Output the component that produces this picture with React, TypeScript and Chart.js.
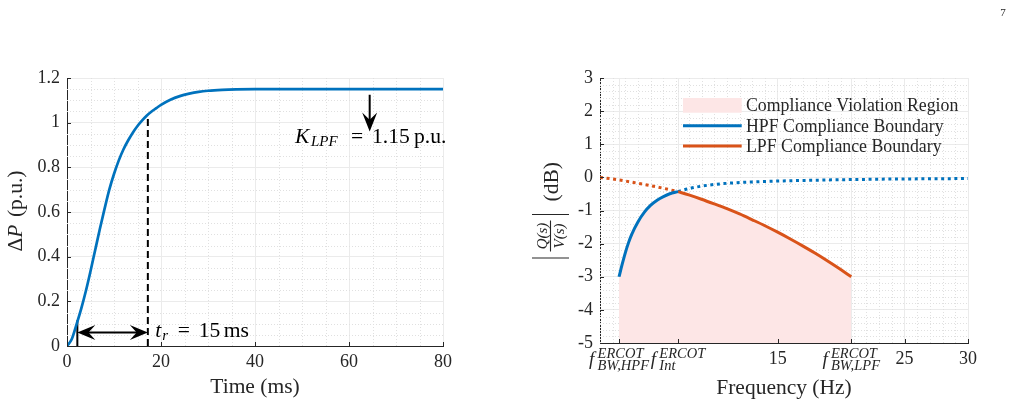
import React, { useEffect, useRef } from 'react';
import { Chart, registerables } from 'chart.js';

Chart.register(...registerables);

const SERIF = '"Liberation Serif", "Times New Roman", serif';
const AXIS_COLOR = '#262626';
const GRID_COLOR = '#ebebeb';
const MINOR_COLOR = '#e0e0e0';
const BLUE = '#0072BD';
const ORANGE = '#D95319';
const PINK = '#fde6e6';

// ---------------- Left panel: power step response ----------------
const timeMs = [0, 1, 2, 3, 4, 5, 6, 7, 8, 9, 10, 11, 12, 13, 14, 15, 16, 17, 18, 19, 20, 22, 24, 26, 28, 30, 33, 36, 40, 50, 60, 70, 80];
const deltaP = [0, 0.03, 0.095, 0.165, 0.245, 0.335, 0.43, 0.525, 0.615, 0.7, 0.77, 0.83, 0.88, 0.92, 0.955, 0.985, 1.01, 1.032, 1.05, 1.065, 1.08, 1.103, 1.119, 1.13, 1.138, 1.143, 1.147, 1.149, 1.15, 1.15, 1.15, 1.15, 1.15];
const timeTicks = [0, 20, 40, 60, 80];
const timeTickLabels = ['0', '20', '40', '60', '80'];
const dpTicks = [0, 0.2, 0.4, 0.6, 0.8, 1, 1.2];
const dpTickLabels = ['0', '0.2', '0.4', '0.6', '0.8', '1', '1.2'];
const riseStartMs = 2.2;
const riseEndMs = 17.2;
const riseLowPu = 0.115;
const riseHighPu = 1.035;
const riseArrowPu = 0.06;
const kArrowMs = 64.4;
const kArrowTopPu = 1.125;
const kArrowTipPu = 0.96;
const kTextMs = 48.5;
const kTextPu = 0.908;
const trTextMs = 18.75;
const trTextPu = 0.039;

// ---------------- Right panel: compliance boundaries ----------------
const hpfFreq = [2.5, 2.75, 3, 3.25, 3.5, 4, 4.5, 5, 5.5, 6, 6.5, 7.15, 8, 9, 10, 11, 12, 14, 16, 18, 20, 22, 24, 26, 28, 30];
const hpfDb = [-3, -2.62, -2.27, -1.97, -1.72, -1.34, -1.05, -0.84, -0.69, -0.58, -0.495, -0.43, -0.34, -0.265, -0.215, -0.18, -0.155, -0.125, -0.1, -0.085, -0.07, -0.06, -0.05, -0.045, -0.04, -0.035];
const lpfFreq = [1, 2, 3, 4, 5, 6, 7.15, 8, 9, 10, 11, 12, 13, 14, 15, 16, 17, 18, 19, 20, 20.8];
const lpfDb = [0, -0.05, -0.11, -0.18, -0.25, -0.33, -0.43, -0.53, -0.66, -0.8, -0.945, -1.105, -1.28, -1.46, -1.655, -1.86, -2.075, -2.3, -2.54, -2.79, -3.0];
const fHpf = 2.5;
const fInt = 7.15;
const fLpf = 20.8;
const freqTicks = [fHpf, fInt, 15, fLpf, 25, 30];
const freqTickLabels = ['', '', '15', '', '25', '30'];
const texTickLabels = [
  { at: fHpf, sup: 'ERCOT', sub: 'BW,HPF' },
  { at: fInt, sup: 'ERCOT', sub: 'Int' },
  { at: fLpf, sup: 'ERCOT', sub: 'BW,LPF' },
];
const dbTicks = [-5, -4, -3, -2, -1, 0, 1, 2, 3];
const dbTickLabels = ['-5', '-4', '-3', '-2', '-1', '0', '1', '2', '3'];
const legendLabels = ['Compliance Violation Region', 'HPF Compliance Boundary', 'LPF Compliance Boundary'];

// ---------------- helpers ----------------
const font = (size: number, italic = false) => `${italic ? 'italic ' : ''}${size}px ${SERIF}`;

function minorValues(from: number, to: number, step: number, majors: number[]) {
  const out: number[] = [];
  const n = Math.round((to - from) / step);
  for (let i = 0; i <= n; i++) {
    const v = Math.round((from + i * step) * 1000) / 1000;
    if (!majors.some((m) => Math.abs(m - v) < 1e-6)) out.push(v);
  }
  return out;
}

function drawMinorGrid(chart: any, xs: number[], ys: number[]) {
  const { ctx, chartArea: a, scales } = chart;
  ctx.save();
  ctx.strokeStyle = MINOR_COLOR;
  ctx.lineWidth = 1;
  ctx.setLineDash([1, 2]);
  for (const v of xs) {
    const p = Math.round(scales.x.getPixelForValue(v)) + 0.5;
    ctx.beginPath();
    ctx.moveTo(p, a.top);
    ctx.lineTo(p, a.bottom);
    ctx.stroke();
  }
  for (const v of ys) {
    const p = Math.round(scales.y.getPixelForValue(v)) + 0.5;
    ctx.beginPath();
    ctx.moveTo(a.left, p);
    ctx.lineTo(a.right, p);
    ctx.stroke();
  }
  ctx.restore();
}

function drawInwardTicks(chart: any, xs: number[], ys: number[]) {
  const { ctx, chartArea: a, scales } = chart;
  ctx.save();
  ctx.strokeStyle = AXIS_COLOR;
  ctx.lineWidth = 1;
  for (const v of xs) {
    const p = Math.round(scales.x.getPixelForValue(v)) + 0.5;
    ctx.beginPath();
    ctx.moveTo(p, a.bottom);
    ctx.lineTo(p, a.bottom - 4);
    ctx.stroke();
  }
  for (const v of ys) {
    const p = Math.round(scales.y.getPixelForValue(v)) + 0.5;
    ctx.beginPath();
    ctx.moveTo(a.left, p);
    ctx.lineTo(a.left + 4, p);
    ctx.stroke();
  }
  ctx.restore();
}

function arrowHead(ctx: CanvasRenderingContext2D, tx: number, ty: number, dx: number, dy: number, len: number, hw: number) {
  const nx = -dy;
  const ny = dx;
  const bx = tx - dx * len;
  const by = ty - dy * len;
  const mx = tx - dx * len * 0.62;
  const my = ty - dy * len * 0.62;
  ctx.beginPath();
  ctx.moveTo(tx, ty);
  ctx.lineTo(bx + nx * hw, by + ny * hw);
  ctx.lineTo(mx, my);
  ctx.lineTo(bx - nx * hw, by - ny * hw);
  ctx.closePath();
  ctx.fill();
}

type Run = { t: string; size: number; it?: boolean; dx: number; dy?: number };
function drawRuns(ctx: CanvasRenderingContext2D, x0: number, y0: number, runs: Run[]) {
  ctx.textAlign = 'left';
  ctx.textBaseline = 'alphabetic';
  for (const r of runs) {
    ctx.font = font(r.size, r.it);
    ctx.fillText(r.t, x0 + r.dx, y0 + (r.dy || 0));
  }
}

function fixedTicks(values: number[]) {
  return (scale: any) => {
    scale.ticks = values.map((v) => ({ value: v }));
  };
}

const tickFont = { family: SERIF, size: 18 };

// ---------------- plugins ----------------
const leftDecor = {
  id: 'leftDecor',
  beforeDatasetsDraw(chart: any) {
    drawMinorGrid(chart, minorValues(0, 80, 5, timeTicks), minorValues(0, 1.2, 0.05, dpTicks));
  },
  afterDatasetsDraw(chart: any) {
    const { ctx, scales } = chart;
    const x = scales.x;
    const y = scales.y;
    drawInwardTicks(chart, timeTicks, dpTicks);
    ctx.save();
    ctx.fillStyle = '#000';
    ctx.strokeStyle = '#000';
    ctx.lineWidth = 2;
    // rise-time double arrow
    const ay = y.getPixelForValue(riseArrowPu);
    const x1 = x.getPixelForValue(riseStartMs);
    const x2 = x.getPixelForValue(riseEndMs);
    ctx.beginPath();
    ctx.moveTo(x1 + 10, ay);
    ctx.lineTo(x2 - 10, ay);
    ctx.stroke();
    arrowHead(ctx, x1, ay, -1, 0, 18, 7.5);
    arrowHead(ctx, x2, ay, 1, 0, 18, 7.5);
    // K_LPF down arrow
    const kx = x.getPixelForValue(kArrowMs);
    const kt = y.getPixelForValue(kArrowTopPu);
    const kb = y.getPixelForValue(kArrowTipPu);
    ctx.beginPath();
    ctx.moveTo(kx, kt);
    ctx.lineTo(kx, kb - 10);
    ctx.stroke();
    arrowHead(ctx, kx, kb, 0, 1, 19, 7.5);
    // annotations
    drawRuns(ctx, x.getPixelForValue(kTextMs), y.getPixelForValue(kTextPu), [
      { t: 'K', size: 21.6, it: true, dx: 0 },
      { t: 'LPF', size: 15, it: true, dx: 16, dy: 3 },
      { t: '=', size: 21.6, dx: 56 },
      { t: '1.15', size: 21.6, dx: 77 },
      { t: 'p.u.', size: 21.6, dx: 119 },
    ]);
    drawRuns(ctx, x.getPixelForValue(trTextMs), y.getPixelForValue(trTextPu), [
      { t: 't', size: 21.6, it: true, dx: 0 },
      { t: 'r', size: 15, it: true, dx: 7, dy: 3 },
      { t: '=', size: 21.6, dx: 22.5 },
      { t: '15', size: 21.6, dx: 43.5 },
      { t: 'ms', size: 21.6, dx: 68.5 },
    ]);
    ctx.restore();
  },
  afterDraw(chart: any) {
    const { ctx, chartArea: a } = chart;
    ctx.save();
    ctx.fillStyle = AXIS_COLOR;
    ctx.font = font(21.5);
    ctx.textAlign = 'center';
    ctx.textBaseline = 'alphabetic';
    ctx.fillText('Time (ms)', (a.left + a.right) / 2, 392.5);
    // y title: ΔP (p.u.)
    ctx.translate(22, (a.top + a.bottom) / 2);
    ctx.rotate(-Math.PI / 2);
    const parts = [
      { t: 'Δ', it: false },
      { t: 'P', it: true },
      { t: ' (p.u.)', it: false },
    ];
    let w = 0;
    for (const p of parts) {
      ctx.font = font(21.5, p.it);
      w += ctx.measureText(p.t).width;
    }
    let cx = -w / 2;
    ctx.textAlign = 'left';
    for (const p of parts) {
      ctx.font = font(21.5, p.it);
      ctx.fillText(p.t, cx, 0);
      cx += ctx.measureText(p.t).width + (p.t === 'P' ? 2 : 0);
    }
    ctx.restore();
  },
};

const rightDecor = {
  id: 'rightDecor',
  beforeDatasetsDraw(chart: any) {
    drawMinorGrid(chart, minorValues(1, 30, 1, freqTicks), minorValues(-5, 3, 0.2, dbTicks));
  },
  afterDatasetsDraw(chart: any) {
    drawInwardTicks(chart, freqTicks, dbTicks);
  },
  afterDraw(chart: any) {
    const { ctx, chartArea: a, scales } = chart;
    const x = scales.x;
    ctx.save();
    ctx.fillStyle = AXIS_COLOR;
    // LaTeX-like tick labels
    for (const lab of texTickLabels) {
      const px = x.getPixelForValue(lab.at);
      ctx.font = font(14.5, true);
      const sw = Math.max(ctx.measureText(lab.sup).width, ctx.measureText(lab.sub).width);
      const total = 8.5 + sw;
      const left = px - total / 2;
      ctx.textAlign = 'left';
      ctx.textBaseline = 'alphabetic';
      ctx.font = font(19, true);
      ctx.fillText('f', left, a.bottom + 21.5);
      ctx.font = font(14.5, true);
      ctx.fillText(lab.sup, left + 8.5, a.bottom + 15);
      ctx.fillText(lab.sub, left + 8.5, a.bottom + 26.5);
    }
    // x title
    ctx.font = font(21.5);
    ctx.textAlign = 'center';
    ctx.fillText('Frequency (Hz)', (a.left + a.right) / 2, 394);
    // legend
    const lx0 = 163;
    const lx1 = 221.7;
    ctx.fillStyle = PINK;
    ctx.fillRect(lx0, 98, lx1 - lx0, 14.7);
    ctx.lineWidth = 3;
    ctx.strokeStyle = BLUE;
    ctx.beginPath();
    ctx.moveTo(lx0, 125.7);
    ctx.lineTo(lx1, 125.7);
    ctx.stroke();
    ctx.strokeStyle = ORANGE;
    ctx.beginPath();
    ctx.moveTo(lx0, 146);
    ctx.lineTo(lx1, 146);
    ctx.stroke();
    ctx.fillStyle = AXIS_COLOR;
    ctx.font = font(17.8);
    ctx.textAlign = 'left';
    ctx.fillText(legendLabels[0], 226, 110.5);
    ctx.fillText(legendLabels[1], 226, 131.5);
    ctx.fillText(legendLabels[2], 226, 151.8);
    // page number
    ctx.font = font(11);
    ctx.textAlign = 'center';
    ctx.fillText('7', 483, 16);
    ctx.restore();

    // y title: |Q(s)/V(s)| (dB)
    ctx.save();
    ctx.fillStyle = AXIS_COLOR;
    ctx.strokeStyle = AXIS_COLOR;
    ctx.translate(30, (a.top + a.bottom) / 2);
    ctx.rotate(-Math.PI / 2);
    ctx.lineWidth = 1.1;
    ctx.beginPath();
    ctx.moveTo(-47.5, -18);
    ctx.lineTo(-47.5, 19);
    ctx.moveTo(-4, -18);
    ctx.lineTo(-4, 19);
    ctx.moveTo(-41, 0.5);
    ctx.lineTo(-10, 0.5);
    ctx.stroke();
    ctx.font = font(15, true);
    ctx.textAlign = 'center';
    ctx.textBaseline = 'alphabetic';
    ctx.fillText('Q(s)', -25.5, -3);
    ctx.fillText('V(s)', -25.5, 14);
    ctx.font = font(21.5);
    ctx.textAlign = 'left';
    ctx.fillText('(dB)', 9, 8);
    ctx.restore();
  },
};

function buildLeft(canvas: HTMLCanvasElement) {
  const curve = timeMs.map((t, i) => ({ x: t, y: deltaP[i] }));
  return new Chart(canvas, {
    type: 'line',
    data: {
      datasets: [
        { data: curve, borderColor: BLUE, borderWidth: 2.7, pointRadius: 0, cubicInterpolationMode: 'monotone', fill: false },
        { data: [{ x: riseEndMs, y: 0 }, { x: riseEndMs, y: riseHighPu }], borderColor: '#000', borderWidth: 2, borderDash: [7, 4], pointRadius: 0, fill: false },
        { data: [{ x: riseStartMs, y: 0 }, { x: riseStartMs, y: riseLowPu }], borderColor: '#000', borderWidth: 2, pointRadius: 0, fill: false },
      ],
    } as any,
    options: {
      responsive: false,
      animation: false,
      devicePixelRatio: 1,
      events: [],
      layout: { padding: { left: 0, top: 78, right: 27, bottom: 0 } },
      plugins: { legend: { display: false }, tooltip: { enabled: false } },
      scales: {
        x: {
          type: 'linear',
          min: 0,
          max: 80,
          afterBuildTicks: fixedTicks(timeTicks),
          afterFit: (s: any) => { s.height = 62; },
          ticks: { font: tickFont, color: AXIS_COLOR, padding: 5, autoSkip: false, maxRotation: 0, callback: (_v: any, i: number) => timeTickLabels[i] },
          grid: { color: GRID_COLOR, drawTicks: false, lineWidth: 1 },
          border: { color: AXIS_COLOR, width: 1 },
        },
        y: {
          type: 'linear',
          min: 0,
          max: 1.2,
          afterBuildTicks: fixedTicks(dpTicks),
          afterFit: (s: any) => { s.width = 67; },
          ticks: { font: tickFont, color: AXIS_COLOR, padding: 7, autoSkip: false, callback: (_v: any, i: number) => dpTickLabels[i] },
          grid: { color: GRID_COLOR, drawTicks: false, lineWidth: 1 },
          border: { color: AXIS_COLOR, width: 1 },
        },
      },
    } as any,
    plugins: [leftDecor],
  });
}

function buildRight(canvas: HTMLCanvasElement) {
  const hpfSolid = hpfFreq.map((f, i) => ({ x: f, y: hpfDb[i] })).filter((p) => p.x <= fInt);
  const hpfDotted = hpfFreq.map((f, i) => ({ x: f, y: hpfDb[i] })).filter((p) => p.x >= fInt);
  const lpfDotted = lpfFreq.map((f, i) => ({ x: f, y: lpfDb[i] })).filter((p) => p.x <= fInt);
  const lpfSolid = lpfFreq.map((f, i) => ({ x: f, y: lpfDb[i] })).filter((p) => p.x >= fInt);
  const region = [...hpfSolid, ...lpfSolid.filter((p) => p.x > fInt)];
  const line = { pointRadius: 0, cubicInterpolationMode: 'monotone', fill: false, borderWidth: 3 };
  return new Chart(canvas, {
    type: 'line',
    data: {
      datasets: [
        { ...line, data: hpfSolid, borderColor: BLUE },
        { ...line, data: lpfSolid, borderColor: ORANGE },
        { ...line, data: hpfDotted, borderColor: BLUE, borderDash: [3, 3.6] },
        { ...line, data: lpfDotted, borderColor: ORANGE, borderDash: [3, 3.6] },
        { data: region, pointRadius: 0, borderWidth: 0, cubicInterpolationMode: 'monotone', fill: { value: -5 }, backgroundColor: PINK },
      ],
    } as any,
    options: {
      responsive: false,
      animation: false,
      devicePixelRatio: 1,
      events: [],
      layout: { padding: { left: 0, top: 78, right: 45, bottom: 0 } },
      plugins: { legend: { display: false }, tooltip: { enabled: false } },
      scales: {
        x: {
          type: 'linear',
          min: 1,
          max: 30,
          afterBuildTicks: fixedTicks(freqTicks),
          afterFit: (s: any) => { s.height = 65; },
          ticks: { font: tickFont, color: AXIS_COLOR, padding: 5, autoSkip: false, maxRotation: 0, callback: (_v: any, i: number) => freqTickLabels[i] },
          grid: { color: GRID_COLOR, drawTicks: false, lineWidth: 1 },
          border: { color: AXIS_COLOR, width: 1 },
        },
        y: {
          type: 'linear',
          min: -5,
          max: 3,
          afterBuildTicks: fixedTicks(dbTicks),
          afterFit: (s: any) => { s.width = 80; },
          ticks: { font: tickFont, color: AXIS_COLOR, padding: 7, autoSkip: false, callback: (_v: any, i: number) => dbTickLabels[i] },
          grid: { color: GRID_COLOR, drawTicks: false, lineWidth: 1 },
          border: { color: AXIS_COLOR, width: 1 },
        },
      },
    } as any,
    plugins: [rightDecor],
  });
}

export default function App() {
  const leftRef = useRef<HTMLCanvasElement>(null);
  const rightRef = useRef<HTMLCanvasElement>(null);
  useEffect(() => {
    const c1 = buildLeft(leftRef.current as HTMLCanvasElement);
    const c2 = buildRight(rightRef.current as HTMLCanvasElement);
    return () => {
      c1.destroy();
      c2.destroy();
    };
  }, []);
  return (
    <div style={{ position: 'absolute', left: 0, top: 0, width: 1013, height: 408, background: '#fff' }}>
      <canvas ref={leftRef} width={470} height={408} style={{ position: 'absolute', left: 0, top: 0, width: 470, height: 408 }} />
      <canvas ref={rightRef} width={493} height={408} style={{ position: 'absolute', left: 520, top: 0, width: 493, height: 408 }} />
    </div>
  );
}
